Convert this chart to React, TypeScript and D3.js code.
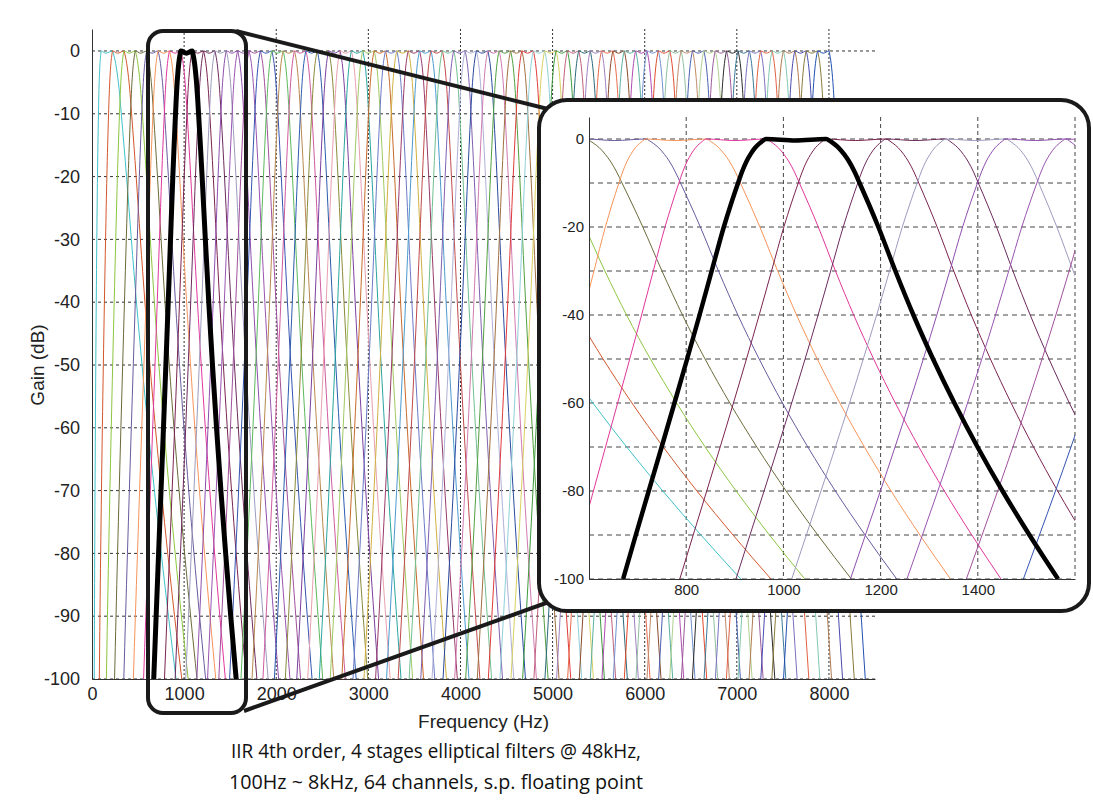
import React, { useEffect, useRef } from 'react';
import * as d3 from 'd3';

// edges (Hz) of the 64 bands, 100 Hz ~ 8 kHz
const bandEdges = [
  100, 223, 347, 470, 594, 717, 841, 964, 1088, 1211, 1334, 1458, 1581, 1705, 1828, 1952,
  2075, 2198, 2322, 2445, 2569, 2692, 2816, 2939, 3063, 3186, 3309, 3433, 3556, 3680, 3803, 3927,
  4050, 4173, 4297, 4420, 4544, 4667, 4791, 4914, 5038, 5161, 5284, 5408, 5531, 5655, 5778, 5902,
  6025, 6148, 6272, 6395, 6519, 6642, 6766, 6889, 7013, 7136, 7259, 7383, 7506, 7630, 7753, 7877,
  8000,
];

// one channel's skirt: gain (dB) and the width of the response at that gain (Hz)
const skirtGain = [0, -0.5, -1, -2, -3.5, -5, -7.5, -10, -15, -20, -30, -40, -50, -60, -70, -80, -90, -100];
const skirtWidth = [124, 140, 152, 172, 193, 210, 232, 250, 285, 318, 378, 440, 506, 576, 650, 728, 810, 895];
const passbandDip = -0.35;

// the channel drawn in bold
const highlighted = 7;

const gainTicks = [0, -10, -20, -30, -40, -50, -60, -70, -80, -90, -100];
const freqTicks = [0, 1000, 2000, 3000, 4000, 5000, 6000, 7000, 8000];
const zoomGainTicks = [0, -20, -40, -60, -80, -100];
const zoomFreqTicks = [800, 1000, 1200, 1400];
const zoomFreqGrid = [800, 1000, 1200, 1400, 1600];

const channelColors = [
  '#3fc1c9', '#d2572b', '#8cc63f', '#6b6a3a', '#6a5a9e', '#f79459', '#e0379b', '#3a8a7a',
  '#7b2350', '#6d2a5e', '#9d9cc0', '#8e4fae', '#9a55b0', '#a0509c', '#3553b0', '#5bb85c',
  '#b8884e', '#d05aa0', '#2c5cb0', '#8a8a3a', '#7b3fa0', '#e8a0b0', '#2aa5a0', '#a0c860',
  '#c86a2a', '#6a7ac8', '#d0b040', '#9a3a6a', '#4a9ad0', '#c04a4a', '#70c090', '#8060b0',
  '#b0b0d8', '#2a4aa0', '#d07ab0', '#50a040', '#a07040', '#e03a3a', '#8fd0d8', '#d8d060',
  '#3c9a3c', '#c0607a', '#2a6a7a', '#a080c0', '#e86a4a', '#8a4a2a', '#5ab0a0', '#b04ab0',
  '#7090d0', '#e04a2a', '#90c0a0', '#c08a6a', '#4a60b0', '#b0d090', '#9a5a9a', '#2a2a2a',
  '#3a7a9a', '#7a70c0', '#e06040', '#80c8b0', '#b07a50', '#4a4ab0', '#8a7a3a', '#2050b0',
];

function channelResponse(i) {
  const lo = bandEdges[i];
  const hi = bandEdges[i + 1];
  const c2 = lo * hi;
  const k = (hi - lo) / skirtWidth[0];
  const left = [];
  const right = [];
  skirtGain.forEach((g, j) => {
    const half = (skirtWidth[j] * k) / 2;
    const fl = Math.sqrt(c2 + half * half) - half;
    left.push([fl, g]);
    right.push([fl + 2 * half, g]);
  });
  return [...left.reverse(), [Math.sqrt(c2), passbandDip], ...right];
}

export default function App() {
  const ref = useRef(null);

  useEffect(() => {
    const svg = d3.select(ref.current);
    svg.selectAll('*').remove();
    const font = 'Liberation Sans, Arial, Helvetica, sans-serif';
    const fmt = d => String(d);
    const channels = d3.range(bandEdges.length - 1).map(channelResponse);

    // ---------- main chart ----------
    const x = d3.scaleLinear().domain([0, 8500]).range([92, 875]);
    const y = d3.scaleLinear().domain([-100, 3.5]).range([679, 29]);

    svg.append('clipPath').attr('id', 'clip-main')
      .append('rect')
      .attr('x', x(0)).attr('y', y(3.5))
      .attr('width', x(8500) - x(0)).attr('height', y(-100) - y(3.5));

    const grid = svg.append('g').attr('stroke', '#333').attr('stroke-width', 1).attr('fill', 'none');
    grid.selectAll('.hg').data(gainTicks).enter().append('line')
      .attr('x1', x(0)).attr('x2', x(8500))
      .attr('y1', d => y(d)).attr('y2', d => y(d))
      .attr('stroke-dasharray', '3,3');
    grid.selectAll('.vg').data(freqTicks.slice(1)).enter().append('line')
      .attr('x1', d => x(d)).attr('x2', d => x(d))
      .attr('y1', y(3.5)).attr('y2', y(-100))
      .attr('stroke-dasharray', '2,2');

    const line = d3.line().x(d => x(d[0])).y(d => y(d[1])).curve(d3.curveMonotoneX);
    const curves = svg.append('g').attr('clip-path', 'url(#clip-main)').attr('fill', 'none');
    curves.selectAll('path').data(channels).enter().append('path')
      .attr('d', d => line(d))
      .attr('stroke', (d, i) => channelColors[i % channelColors.length])
      .attr('stroke-width', 1);
    curves.append('path')
      .attr('d', line(channels[highlighted]))
      .attr('stroke', '#000').attr('stroke-width', 5);

    const yAxis = svg.append('g')
      .attr('transform', `translate(${x(0)},0)`)
      .call(d3.axisLeft(y).tickValues(gainTicks).tickFormat(fmt).tickSize(0).tickSizeOuter(0).tickPadding(12));
    const xAxis = svg.append('g')
      .attr('transform', `translate(0,${y(-100)})`)
      .call(d3.axisBottom(x).tickValues(freqTicks).tickFormat(fmt).tickSize(0).tickSizeOuter(0).tickPadding(8));
    [yAxis, xAxis].forEach(a => {
      a.attr('font-family', font).attr('font-size', 18);
      a.select('.domain').attr('stroke', '#333');
      a.selectAll('text').attr('fill', '#222');
    });

    svg.append('text')
      .attr('transform', `translate(44,${y(-50)}) rotate(-90)`)
      .attr('text-anchor', 'middle')
      .attr('font-family', font).attr('font-size', 19).attr('fill', '#222')
      .text('Gain (dB)');
    svg.append('text')
      .attr('x', (x(0) + x(8500)) / 2).attr('y', 728)
      .attr('text-anchor', 'middle')
      .attr('font-family', font).attr('font-size', 19).attr('fill', '#222')
      .text('Frequency (Hz)');

    // ---------- zoom frame and connectors ----------
    const ann = svg.append('g').attr('fill', 'none').attr('stroke', '#1a1a1a').attr('stroke-width', 4);
    ann.append('rect').attr('x', 148).attr('y', 31).attr('width', 98).attr('height', 682).attr('rx', 15);
    ann.append('line').attr('x1', 236).attr('y1', 31).attr('x2', 560).attr('y2', 112);
    ann.append('line').attr('x1', 244).attr('y1', 711).attr('x2', 560).attr('y2', 598);

    // ---------- inset ----------
    const xz = d3.scaleLinear().domain([600, 1600]).range([589, 1075]);
    const yz = d3.scaleLinear().domain([-100, 5]).range([579, 117]);

    svg.append('rect')
      .attr('x', 539).attr('y', 100).attr('width', 550).attr('height', 511).attr('rx', 28)
      .attr('fill', '#fff').attr('stroke', '#1a1a1a').attr('stroke-width', 4);

    svg.append('clipPath').attr('id', 'clip-zoom')
      .append('rect')
      .attr('x', xz(600)).attr('y', yz(5))
      .attr('width', xz(1600) - xz(600)).attr('height', yz(-100) - yz(5));

    const zgrid = svg.append('g').attr('stroke', '#444').attr('stroke-width', 1).attr('fill', 'none');
    zgrid.selectAll('.hg').data(gainTicks).enter().append('line')
      .attr('x1', xz(600)).attr('x2', xz(1600))
      .attr('y1', d => yz(d)).attr('y2', d => yz(d))
      .attr('stroke-dasharray', '5,4');
    zgrid.selectAll('.vg').data(zoomFreqGrid).enter().append('line')
      .attr('x1', d => xz(d)).attr('x2', d => xz(d))
      .attr('y1', yz(5)).attr('y2', yz(-100))
      .attr('stroke-dasharray', '4,3');

    const zline = d3.line().x(d => xz(d[0])).y(d => yz(d[1])).curve(d3.curveMonotoneX);
    const zcurves = svg.append('g').attr('clip-path', 'url(#clip-zoom)').attr('fill', 'none');
    zcurves.selectAll('path').data(channels).enter().append('path')
      .attr('d', d => zline(d))
      .attr('stroke', (d, i) => channelColors[i % channelColors.length])
      .attr('stroke-width', 1);
    zcurves.append('path')
      .attr('d', zline(channels[highlighted]))
      .attr('stroke', '#000').attr('stroke-width', 4.5);

    const zyAxis = svg.append('g')
      .attr('transform', `translate(${xz(600)},0)`)
      .call(d3.axisLeft(yz).tickValues(zoomGainTicks).tickFormat(fmt).tickSize(0).tickSizeOuter(0).tickPadding(5));
    const zxAxis = svg.append('g')
      .attr('transform', `translate(0,${yz(-100)})`)
      .call(d3.axisBottom(xz).tickValues(zoomFreqTicks).tickFormat(fmt).tickSize(0).tickSizeOuter(0).tickPadding(5));
    [zyAxis, zxAxis].forEach(a => {
      a.attr('font-family', font).attr('font-size', 15);
      a.select('.domain').attr('stroke', '#333');
      a.selectAll('text').attr('fill', '#222');
    });

    // ---------- caption ----------
    const caption = svg.append('g')
      .attr('font-family', 'Open Sans, Noto Sans, sans-serif').attr('font-size', 20)
      .attr('fill', '#111').attr('text-anchor', 'middle');
    caption.append('text').attr('x', 436).attr('y', 758)
      .attr('textLength', 410).attr('lengthAdjust', 'spacingAndGlyphs')
      .text('IIR 4th order, 4 stages elliptical filters @ 48kHz,');
    caption.append('text').attr('x', 436).attr('y', 789)
      .attr('textLength', 414).attr('lengthAdjust', 'spacingAndGlyphs')
      .text('100Hz ~ 8kHz, 64 channels, s.p. floating point');
  }, []);

  return (
    <svg ref={ref} width={1093} height={805}
      style={{ position: 'absolute', left: 0, top: 0, background: '#fff' }} />
  );
}
